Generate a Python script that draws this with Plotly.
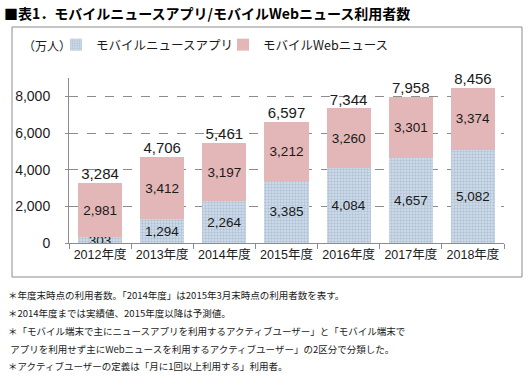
import plotly.graph_objects as go

categories = ["2012年度", "2013年度", "2014年度", "2015年度", "2016年度", "2017年度", "2018年度"]
app_users = [303, 1294, 2264, 3385, 4084, 4657, 5082]
web_users = [2981, 3412, 3197, 3212, 3260, 3301, 3374]
totals = [3284, 4706, 5461, 6597, 7344, 7958, 8456]
y_ticks = [0, 2000, 4000, 6000, 8000]

series_names = ["モバイルニュースアプリ", "モバイルWebニュース"]
title_text = "■表1．モバイルニュースアプリ/モバイルWebニュース利用者数"
unit_text = "（万人）"
notes = [
    "＊年度末時点の利用者数。「2014年度」は2015年3月末時点の利用者数を表す。",
    "＊2014年度までは実績値、2015年度以降は予測値。",
    "＊「モバイル端末で主にニュースアプリを利用するアクティブユーザー」と「モバイル端末で",
    " アプリを利用せず主にWebニュースを利用するアクティブユーザー」の2区分で分類した。",
    "＊アクティブユーザーの定義は「月に1回以上利用する」利用者。",
]

FONT = "Liberation Sans, Noto Sans CJK JP, sans-serif"

fig = go.Figure()
fig.add_trace(go.Bar(
    x=categories, y=app_users, name=series_names[0],
    marker=dict(color="#d3dfeb", line=dict(width=0),
                pattern=dict(shape=".", fgcolor="#8fa7c1", bgcolor="#d3dfeb", size=3, solidity=0.5)),
    text=[f"{v:,}" for v in app_users], textposition="inside", insidetextanchor="middle",
    constraintext="none", textangle=0,
    textfont=dict(size=13.5, color="#1a1a1a", family=FONT),
))
fig.add_trace(go.Bar(
    x=categories, y=web_users, name=series_names[1],
    marker=dict(color="#e3b6b7", line=dict(width=0)),
    text=[f"{v:,}" for v in web_users], textposition="inside", insidetextanchor="middle",
    constraintext="none", textangle=0,
    textfont=dict(size=13.5, color="#1a1a1a", family=FONT),
))
fig.add_trace(go.Scatter(
    x=categories, y=totals, mode="text", text=[f"{v:,}" for v in totals],
    textposition="top center", showlegend=False, hoverinfo="skip", cliponaxis=False,
    textfont=dict(size=15, color="#1a1a1a", family=FONT),
))

L, R, T, B = 69, 26, 78, 133
PW = 530 - L - R
PH = 376 - T - B

def px_x(p):
    return (p - L) / PW

def px_y(p):
    return (376 - B - p) / PH

fig.update_layout(
    width=530, height=376,
    margin=dict(l=L, r=R, t=T, b=B, autoexpand=False),
    barmode="stack", bargap=0.29,
    plot_bgcolor="white", paper_bgcolor="white",
    font=dict(family=FONT, size=13, color="#1a1a1a"),
    title=dict(text="<b>" + title_text + "</b>", x=4 / 530, xanchor="left",
               y=1 - 14 / 376, yanchor="middle",
               font=dict(size=14, color="black", family="Noto Sans CJK JP")),
    legend=dict(orientation="h", x=px_x(56), xanchor="left", y=px_y(45), yanchor="middle",
                font=dict(size=12.5, family="Noto Sans CJK JP", color="#1a1a1a"),
                entrywidth=122, entrywidthmode="pixels",
                traceorder="normal", bgcolor="rgba(0,0,0,0)"),
    xaxis=dict(showline=True, linecolor="#8c8c8c", linewidth=1, ticks="outside",
               tickson="boundaries", ticklen=5, tickcolor="#8c8c8c", tickangle=0,
               automargin=False,
               tickfont=dict(size=12.5, family=FONT, color="#1a1a1a"), showgrid=False),
    yaxis=dict(range=[0, 9000], tickvals=y_ticks, tickformat=",", showline=True,
               linecolor="#8c8c8c", linewidth=1, ticks="outside", ticklen=3, tickcolor="#8c8c8c",
               showgrid=True, gridcolor="#8c8c8c", griddash="dash", gridwidth=1,
               zeroline=False, ticklabelstandoff=12, automargin=False,
               tickfont=dict(size=14, family=FONT, color="#1a1a1a")),
    shapes=[dict(type="rect", xref="paper", yref="paper",
                 x0=px_x(12), x1=px_x(522), y0=px_y(277), y1=px_y(27),
                 line=dict(color="#8c8c8c", width=1), layer="below")],
)

fig.add_annotation(text=unit_text, xref="paper", yref="paper", x=px_x(21), y=px_y(45),
                   xanchor="left", yanchor="middle", showarrow=False,
                   font=dict(size=12, family="Noto Sans CJK JP", color="#1a1a1a"))

note_y = [295, 313, 331, 349, 366]
for txt, yy in zip(notes, note_y):
    fig.add_annotation(text=txt, xref="paper", yref="paper", x=px_x(6), y=px_y(yy),
                       xanchor="left", yanchor="middle", showarrow=False,
                       font=dict(size=9.5, family="Noto Sans CJK JP", color="#1a1a1a"))

fig.write_html("out.html", config={"displayModeBar": False},
               post_script="document.body.style.margin='0';document.body.style.overflow='hidden';")
